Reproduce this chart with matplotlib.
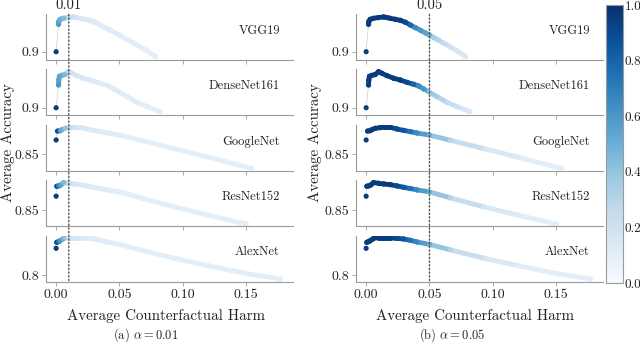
import matplotlib
matplotlib.use("Agg")
import matplotlib.pyplot as plt
import numpy as np
from matplotlib.collections import LineCollection
from matplotlib.colors import Normalize
from matplotlib.cm import ScalarMappable
from matplotlib.patches import ConnectionPatch
from matplotlib.ticker import MultipleLocator
import matplotlib.transforms as mtransforms

# ---- data ----
models = ["VGG19", "DenseNet161", "GoogleNet", "ResNet152", "AlexNet"]
alphas = [0.01, 0.05]

vgg_harm = [0.0, 0.0019, 0.0021, 0.0032, 0.0058, 0.0098, 0.0138, 0.0164, 0.0190, 0.0230, 0.0270, 0.0310,
            0.0349, 0.0389, 0.0429, 0.0468, 0.0500, 0.0534, 0.0574, 0.0614, 0.0667, 0.0720, 0.0786]
vgg_acc = [0.900, 0.9269, 0.9295, 0.9318, 0.9328, 0.9335, 0.9341, 0.9335, 0.9328, 0.9318, 0.9308, 0.9289,
           0.9262, 0.9236, 0.9210, 0.9184, 0.9164, 0.9138, 0.9112, 0.9082, 0.9046, 0.9007, 0.8951]
vgg_p01 = [0.95, 0.6, 0.55, 0.5, 0.45, 0.3, 0.2, 0.18, 0.16, 0.15, 0.14, 0.13,
           0.12, 0.12, 0.12, 0.12, 0.12, 0.11, 0.11, 0.11, 0.1, 0.1, 0.1]
vgg_p05 = [0.95, 0.95, 0.95, 0.95, 0.95, 0.95, 0.95, 0.95, 0.95, 0.95, 0.95, 0.9,
           0.8, 0.65, 0.6, 0.55, 0.5, 0.35, 0.3, 0.25, 0.2, 0.17, 0.15]

dense_harm = [0.0, 0.0019, 0.0021, 0.0026, 0.0045, 0.0071, 0.0098, 0.0124, 0.0164, 0.0217, 0.0270, 0.0323,
              0.0376, 0.0415, 0.0455, 0.0500, 0.0561, 0.0640, 0.0720, 0.0820]
dense_acc = [0.900, 0.9223, 0.9272, 0.9308, 0.9318, 0.9325, 0.9354, 0.9338, 0.9315, 0.9289, 0.9272, 0.9249,
             0.9230, 0.9213, 0.9184, 0.9151, 0.9108, 0.9052, 0.9010, 0.8961]
dense_p01 = [0.95, 0.6, 0.55, 0.55, 0.5, 0.45, 0.3, 0.2, 0.17, 0.15, 0.14, 0.13,
             0.12, 0.12, 0.12, 0.12, 0.11, 0.11, 0.1, 0.1]
dense_p05 = [0.95, 0.95, 0.95, 0.95, 0.95, 0.95, 0.95, 0.95, 0.95, 0.95, 0.95, 0.9,
             0.8, 0.65, 0.6, 0.4, 0.35, 0.25, 0.2, 0.15]

google_harm = [0.0, 0.0011, 0.0032, 0.0045, 0.0071, 0.0111, 0.0151, 0.0190, 0.0243, 0.0296, 0.0349, 0.0402,
               0.0500, 0.0667, 0.0931, 0.1196, 0.1545]
google_acc = [0.8623, 0.8701, 0.8704, 0.8713, 0.8725, 0.8731, 0.8734, 0.8734, 0.8719, 0.8707, 0.8696, 0.8684,
              0.8666, 0.8620, 0.8547, 0.8474, 0.8374]
google_p01 = [0.95, 0.9, 0.6, 0.5, 0.4, 0.25, 0.18, 0.15, 0.14, 0.13, 0.12, 0.12, 0.11, 0.1, 0.1, 0.1, 0.1]
google_p05 = [0.95, 0.95, 0.95, 0.95, 0.95, 0.95, 0.95, 0.95, 0.9, 0.85, 0.75, 0.65, 0.5, 0.3, 0.18, 0.12, 0.1]

resnet_harm = [0.0, 0.0005, 0.0019, 0.0037, 0.0058, 0.0098, 0.0138, 0.0190, 0.0243, 0.0296, 0.0349, 0.0402,
               0.0500, 0.0667, 0.0931, 0.1196, 0.1503]
resnet_acc = [0.8622, 0.8709, 0.8712, 0.8720, 0.8741, 0.8735, 0.8729, 0.8723, 0.8712, 0.8700, 0.8689, 0.8677,
              0.8660, 0.8607, 0.8529, 0.8457, 0.8378]
resnet_p01 = [0.95, 0.9, 0.7, 0.55, 0.45, 0.25, 0.18, 0.15, 0.14, 0.13, 0.12, 0.12, 0.11, 0.1, 0.1, 0.1, 0.1]
resnet_p05 = [0.95, 0.95, 0.95, 0.95, 0.95, 0.95, 0.95, 0.95, 0.9, 0.85, 0.75, 0.65, 0.5, 0.3, 0.18, 0.12, 0.1]

alex_harm = [0.0, 0.0005, 0.0019, 0.0032, 0.0053, 0.0071, 0.0098, 0.0138, 0.0190, 0.0243, 0.0296, 0.0349,
             0.0402, 0.0500, 0.0667, 0.0931, 0.1196, 0.1460, 0.1772]
alex_acc = [0.8267, 0.8326, 0.8333, 0.8342, 0.8359, 0.8372, 0.8368, 0.8368, 0.8368, 0.8365, 0.8359, 0.8346,
            0.8329, 0.8306, 0.8251, 0.8170, 0.8098, 0.8029, 0.7964]
alex_p01 = [0.95, 0.9, 0.75, 0.6, 0.5, 0.4, 0.25, 0.18, 0.15, 0.14, 0.13, 0.12, 0.12, 0.11, 0.1, 0.1, 0.1, 0.1, 0.1]
alex_p05 = [0.95, 0.95, 0.95, 0.95, 0.95, 0.95, 0.95, 0.95, 0.95, 0.9, 0.85, 0.75, 0.65, 0.5, 0.3, 0.18, 0.12, 0.1, 0.1]

harms = [vgg_harm, dense_harm, google_harm, resnet_harm, alex_harm]
accs = [vgg_acc, dense_acc, google_acc, resnet_acc, alex_acc]
probs = [[vgg_p01, dense_p01, google_p01, resnet_p01, alex_p01],
         [vgg_p05, dense_p05, google_p05, resnet_p05, alex_p05]]
ylims = [(0.8918, 0.9367), (0.8928, 0.9377), (0.8354, 0.8754), (0.8361, 0.8761), (0.7941, 0.8391)]

plt.rcParams["font.family"] = "serif"
plt.rcParams["font.serif"] = ["cmr10"]
plt.rcParams["mathtext.fontset"] = "cm"
plt.rcParams["axes.formatter.use_mathtext"] = True

W, H = 640, 344
fig = plt.figure(figsize=(6.4, 3.44), dpi=100)
cmap = plt.get_cmap("Blues")
norm = Normalize(0, 1)
spine_col = "#9a9a9a"
text_col = "#222222"

panel_x = [46, 356]
panel_w = 247
row_top = [14.3, 69.3, 125.0, 180.3, 235.7]
row_h = 45.8


def draw_curve(ax, h, a, p):
    h, a, p = np.asarray(h), np.asarray(a), np.asarray(p)
    ax.plot(h, a, color="#d4d4d4", lw=0.6, zorder=1)
    pts = np.column_stack([h, a])
    segs = np.stack([pts[1:-1], pts[2:]], axis=1)
    cols = cmap(norm((p[1:-1] + p[2:]) / 2))
    lc = LineCollection(segs, colors=cols, linewidths=3.5, capstyle="round", zorder=2)
    ax.add_collection(lc)
    ax.scatter(h, a, c=p, cmap=cmap, norm=norm, s=14, lw=0, zorder=3)


for k, alpha in enumerate(alphas):
    axes = []
    for i, name in enumerate(models):
        ax = fig.add_axes([panel_x[k] / W, 1 - (row_top[i] + row_h) / H, panel_w / W, row_h / H])
        draw_curve(ax, harms[i], accs[i], probs[k][i])
        ax.set_xlim(-0.008, 0.187)
        ax.set_ylim(*ylims[i])
        ax.yaxis.set_major_locator(MultipleLocator(0.05))
        ax.xaxis.set_major_locator(MultipleLocator(0.05))
        ax.xaxis.set_major_formatter(plt.FuncFormatter(lambda v, pos: "%.2f" % v))
        ax.yaxis.set_major_formatter(plt.FuncFormatter(lambda v, pos: ("%.2f" % v).rstrip("0")))
        for s in ["top", "right"]:
            ax.spines[s].set_visible(False)
        for s in ["left", "bottom"]:
            ax.spines[s].set_color(spine_col)
            ax.spines[s].set_linewidth(0.8)
        ax.tick_params(length=3, width=0.6, color=spine_col, labelcolor=text_col, labelsize=10, pad=2)
        if i < len(models) - 1:
            ax.tick_params(labelbottom=False)
        ax.text(0.947, 0.635, name, transform=ax.transAxes, ha="right", va="center",
                fontsize=9, color=text_col)
        axes.append(ax)

    top, bot = axes[0], axes[-1]
    con = ConnectionPatch(xyA=(alpha, ylims[0][1]), coordsA=top.transData,
                          xyB=(alpha, ylims[-1][0]), coordsB=bot.transData,
                          color="#555555", ls=":", lw=1.0, zorder=5)
    fig.add_artist(con)
    trans = mtransforms.blended_transform_factory(top.transData, top.transAxes)
    top.text(alpha, 1.04, "%.2f" % alpha, transform=trans, ha="center", va="bottom",
             fontsize=10.5, color=text_col)

# axis labels and captions
fig.text(8 / W, 1 - 143 / H, "Average Accuracy", rotation=90, ha="center", va="center",
         fontsize=10.8, color=text_col)
fig.text(315 / W, 1 - 143 / H, "Average Accuracy", rotation=90, ha="center", va="center",
         fontsize=10.8, color=text_col)
fig.text(166 / W, 1 - 316 / H, "Average Counterfactual Harm", ha="center", va="center",
         fontsize=10.8, color=text_col)
fig.text(475 / W, 1 - 316 / H, "Average Counterfactual Harm", ha="center", va="center",
         fontsize=10.8, color=text_col)
fig.text(146 / W, 1 - 335 / H, r"(a) $\alpha = 0.01$", ha="center", va="center", fontsize=9, color=text_col)
fig.text(452 / W, 1 - 335 / H, r"(b) $\alpha = 0.05$", ha="center", va="center", fontsize=9, color=text_col)

# colorbar
cax = fig.add_axes([606 / W, 1 - 283 / H, 17 / W, 278 / H])
cb = fig.colorbar(ScalarMappable(norm=norm, cmap=cmap), cax=cax)
cb.set_ticks([0.0, 0.2, 0.4, 0.6, 0.8, 1.0])
cb.ax.yaxis.set_major_formatter(plt.FuncFormatter(lambda v, pos: "%.1f" % v))
cb.outline.set_edgecolor(spine_col)
cb.outline.set_linewidth(0.8)
cb.ax.tick_params(length=0, width=0.6, color=spine_col, labelcolor=text_col, labelsize=9.5, pad=1)

fig.savefig("out.png", dpi=100)
